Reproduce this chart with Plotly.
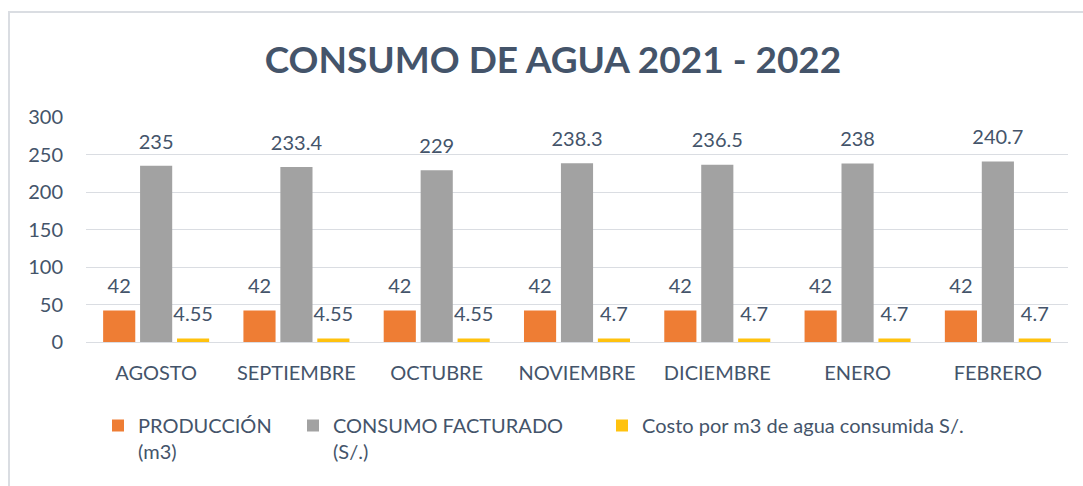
import plotly.graph_objects as go

meses = ["AGOSTO", "SEPTIEMBRE", "OCTUBRE", "NOVIEMBRE", "DICIEMBRE", "ENERO", "FEBRERO"]
produccion = [42, 42, 42, 42, 42, 42, 42]
consumo = [235, 233.4, 229, 238.3, 236.5, 238, 240.7]
costo = [4.55, 4.55, 4.55, 4.7, 4.7, 4.7, 4.7]
nombres = ["PRODUCCIÓN<br>(m3)", "CONSUMO FACTURADO<br>(S/.)", "Costo por m3 de agua consumida S/."]
colores = ["#EE7D34", "#A2A2A2", "#FFC20E"]
labels = [["42"] * 7,
          ["235", "233.4", "229", "238.3", "236.5", "238", "240.7"],
          ["4.55", "4.55", "4.55", "4.7", "4.7", "4.7", "4.7"]]

TXT = "#44546A"
FONT = "Lato"
W, H = 1083, 486
ML, MR, MT, MB = 86, 15, 117, 144

fig = go.Figure()
series = [produccion, consumo, costo]
legend_ids = ["legend", "legend2", "legend3"]
for i, (vals, name, col) in enumerate(zip(series, nombres, colores)):
    fig.add_trace(go.Bar(x=meses, y=vals, name=name, marker_color=col,
                         marker_line_width=0, offsetgroup=str(i),
                         legend=legend_ids[i], hoverinfo="skip"))
for i, (vals, lab) in enumerate(zip(series, labels)):
    fig.add_trace(go.Scatter(x=meses, y=vals, mode="markers+text", text=lab,
                             textposition="top center",
                             textfont=dict(size=20, color=TXT, family=FONT),
                             marker=dict(size=18, opacity=0),
                             offsetgroup=str(i), showlegend=False,
                             hoverinfo="skip", cliponaxis=False))

pw = W - ML - MR
ph = H - MT - MB
def px(x):
    return (x - ML) / pw
def py(y):
    return (H - MB - y) / ph

fig.add_shape(type="rect", xref="paper", yref="paper",
              x0=px(9), x1=px(1100), y0=py(500), y1=py(12),
              line=dict(color="#DADDE2", width=2), layer="below")

def leg(xpix):
    return dict(orientation="h", xref="container", yref="container",
                x=xpix / W, xanchor="left", y=1 - 406 / H, yanchor="top",
                font=dict(size=20, color=TXT, family=FONT), valign="top",
                itemwidth=30, itemclick=False, bgcolor="rgba(0,0,0,0)")

fig.update_layout(
    width=W, height=H,
    margin=dict(l=ML, r=MR, t=MT, b=MB, autoexpand=False),
    paper_bgcolor="white", plot_bgcolor="white",
    barmode="group", bargap=0.21, bargroupgap=0.13,
    scattermode="group", scattergap=0.21,
    font=dict(family=FONT, color=TXT),
    title=dict(text="<b>CONSUMO DE AGUA 2021 - 2022</b>", xref="container",
               x=553 / W, xanchor="center",
               y=1 - 60 / H, yanchor="middle",
               font=dict(size=37, color=TXT, family=FONT)),
    yaxis=dict(range=[0, 300], dtick=50, showgrid=True, gridcolor="#DADDE2",
               gridwidth=1, zeroline=False, showline=False, ticks="",
               ticklabelstandoff=22, automargin=False,
               tickfont=dict(size=20, color=TXT, family=FONT)),
    xaxis=dict(showline=True, linecolor="#DADDE2", linewidth=1, ticks="",
               ticklabelstandoff=13, automargin=False,
               tickfont=dict(size=20, color=TXT, family=FONT)),
    legend=leg(98),
    legend2=leg(293),
    legend3=leg(602),
    showlegend=True,
)

fig.write_html("out.html", config={"displayModeBar": False},
               post_script="document.body.style.margin='0';document.body.style.padding='0';")
